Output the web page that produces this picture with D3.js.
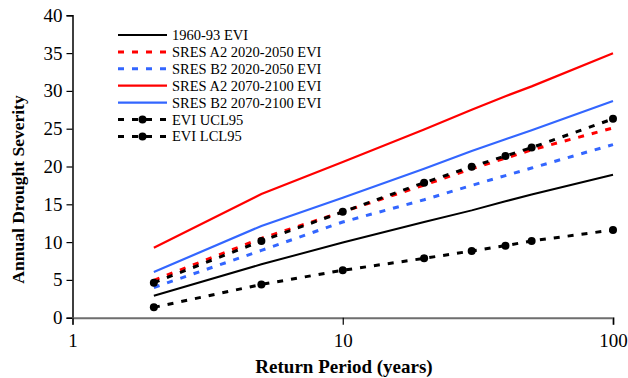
<!DOCTYPE html>
<html>
<head>
<meta charset="utf-8">
<script src="https://cdn.jsdelivr.net/npm/d3@7/dist/d3.min.js"></script>
<style>
  html, body { margin: 0; padding: 0; background: #fff; }
  svg { display: block; font-family: "Liberation Serif", "Times New Roman", serif; }
</style>
</head>
<body>
<svg id="chart" width="628" height="378"></svg>
<script>
// Return periods (years)
const returnPeriods = [2, 5, 10, 20, 30, 40, 50, 100];

// Annual drought severity by return period
const base1960 = [2.9, 7.06, 9.95, 12.66, 14.2, 15.4, 16.3, 18.9];
const a2Near   = [4.95, 10.5, 14.0, 17.55, 19.7, 21.1, 22.2, 25.1];
const b2Near   = [4.0, 8.9, 12.66, 15.6, 17.5, 18.8, 19.8, 22.9];
const a2Far    = [9.26, 16.36, 20.6, 24.9, 27.5, 29.3, 30.6, 34.97];
const b2Far    = [6.05, 12.13, 15.86, 19.7, 22.05, 23.6, 24.8, 28.66];
const eviUcl   = [4.63, 10.15, 14.0, 17.86, 19.97, 21.4, 22.5, 26.3];
const eviLcl   = [1.37, 4.4, 6.27, 7.85, 8.82, 9.53, 10.15, 11.6];

const seriesNames = [
  "1960-93 EVI",
  "SRES A2 2020-2050 EVI",
  "SRES B2 2020-2050 EVI",
  "SRES A2 2070-2100 EVI",
  "SRES B2 2070-2100 EVI",
  "EVI UCL95",
  "EVI LCL95"
];
const seriesValues = [base1960, a2Near, b2Near, a2Far, b2Far, eviUcl, eviLcl];

const xTicks = [1, 10, 100];
const yTicks = [0, 5, 10, 15, 20, 25, 30, 35, 40];

const styles = [
  { color: "#000000", width: 2,   dash: null,  dots: false },
  { color: "#ff0000", width: 3,   dash: "6,8", dots: false },
  { color: "#3366ff", width: 3,   dash: "6,8", dots: false },
  { color: "#ff0000", width: 2.2, dash: null,  dots: false },
  { color: "#3366ff", width: 2.2, dash: null,  dots: false },
  { color: "#000000", width: 3,   dash: "6,8", dots: true  },
  { color: "#000000", width: 3,   dash: "6,8", dots: true  }
];

const svg = d3.select("#chart");

const x = d3.scaleLog().domain([1, 100]).range([72.5, 613]);
const y = d3.scaleLinear().domain([0, 40]).range([317.7, 15.3]);

// Y axis (black) with outward ticks
const yAxis = d3.axisLeft(y).tickValues(yTicks).tickSize(6).tickPadding(4).tickFormat(d3.format("d"));
const gy = svg.append("g").attr("transform", `translate(${x(1)},0)`).call(yAxis);
gy.select(".domain").attr("stroke", "#000").attr("stroke-width", 1.5);
gy.selectAll(".tick line").attr("stroke", "#000").attr("stroke-width", 1.2);
gy.selectAll(".tick text")
  .attr("font-family", "Liberation Serif, serif")
  .attr("font-size", 19).attr("fill", "#000");

// X axis (grey) with downward ticks at decades
const xAxis = d3.axisBottom(x).tickValues(xTicks).tickSize(7).tickPadding(9).tickFormat(d3.format("d"));
const gx = svg.append("g").attr("transform", `translate(0,${y(0)})`).call(xAxis);
gx.select(".domain").attr("stroke", "#6e6e6e").attr("stroke-width", 2);
gx.selectAll(".tick line").attr("stroke", "#000").attr("stroke-width", 1.2);
gx.selectAll(".tick text")
  .attr("font-family", "Liberation Serif, serif")
  .attr("font-size", 19).attr("fill", "#000");

// Axis titles
svg.append("text")
  .attr("x", 344).attr("y", 373)
  .attr("text-anchor", "middle")
  .attr("font-weight", "bold").attr("font-size", 19)
  .text("Return Period (years)");

svg.append("text")
  .attr("transform", "translate(24,189.5) rotate(-90)")
  .attr("text-anchor", "middle")
  .attr("font-weight", "bold").attr("font-size", 17.5)
  .text("Annual Drought Severity");

// Series lines
const line = d3.line()
  .x((d, i) => x(returnPeriods[i]))
  .y(d => y(d));

const plot = svg.append("g");
seriesValues.forEach((vals, k) => {
  const s = styles[k];
  plot.append("path")
    .datum(vals)
    .attr("d", line)
    .attr("fill", "none")
    .attr("stroke", s.color)
    .attr("stroke-width", s.width)
    .attr("stroke-dasharray", s.dash);
  if (s.dots) {
    plot.selectAll(null)
      .data(vals)
      .enter().append("circle")
      .attr("cx", (d, i) => x(returnPeriods[i]))
      .attr("cy", d => y(d))
      .attr("r", 4)
      .attr("fill", "#000");
  }
});

// Legend
const legend = svg.append("g");
const legX0 = 118, legX1 = 167, legY0 = 35, legStep = 16.9;
seriesNames.forEach((name, k) => {
  const s = styles[k];
  const yy = legY0 + k * legStep;
  legend.append("line")
    .attr("x1", legX0).attr("x2", legX1)
    .attr("y1", yy).attr("y2", yy)
    .attr("stroke", s.color)
    .attr("stroke-width", s.width)
    .attr("stroke-dasharray", s.dash);
  if (s.dots) {
    legend.append("circle")
      .attr("cx", (legX0 + legX1) / 2).attr("cy", yy).attr("r", 4).attr("fill", "#000");
  }
  legend.append("text")
    .attr("x", 172).attr("y", yy + 5)
    .attr("font-size", 14.5)
    .attr("fill", "#000")
    .text(name);
});
</script>
</body>
</html>
